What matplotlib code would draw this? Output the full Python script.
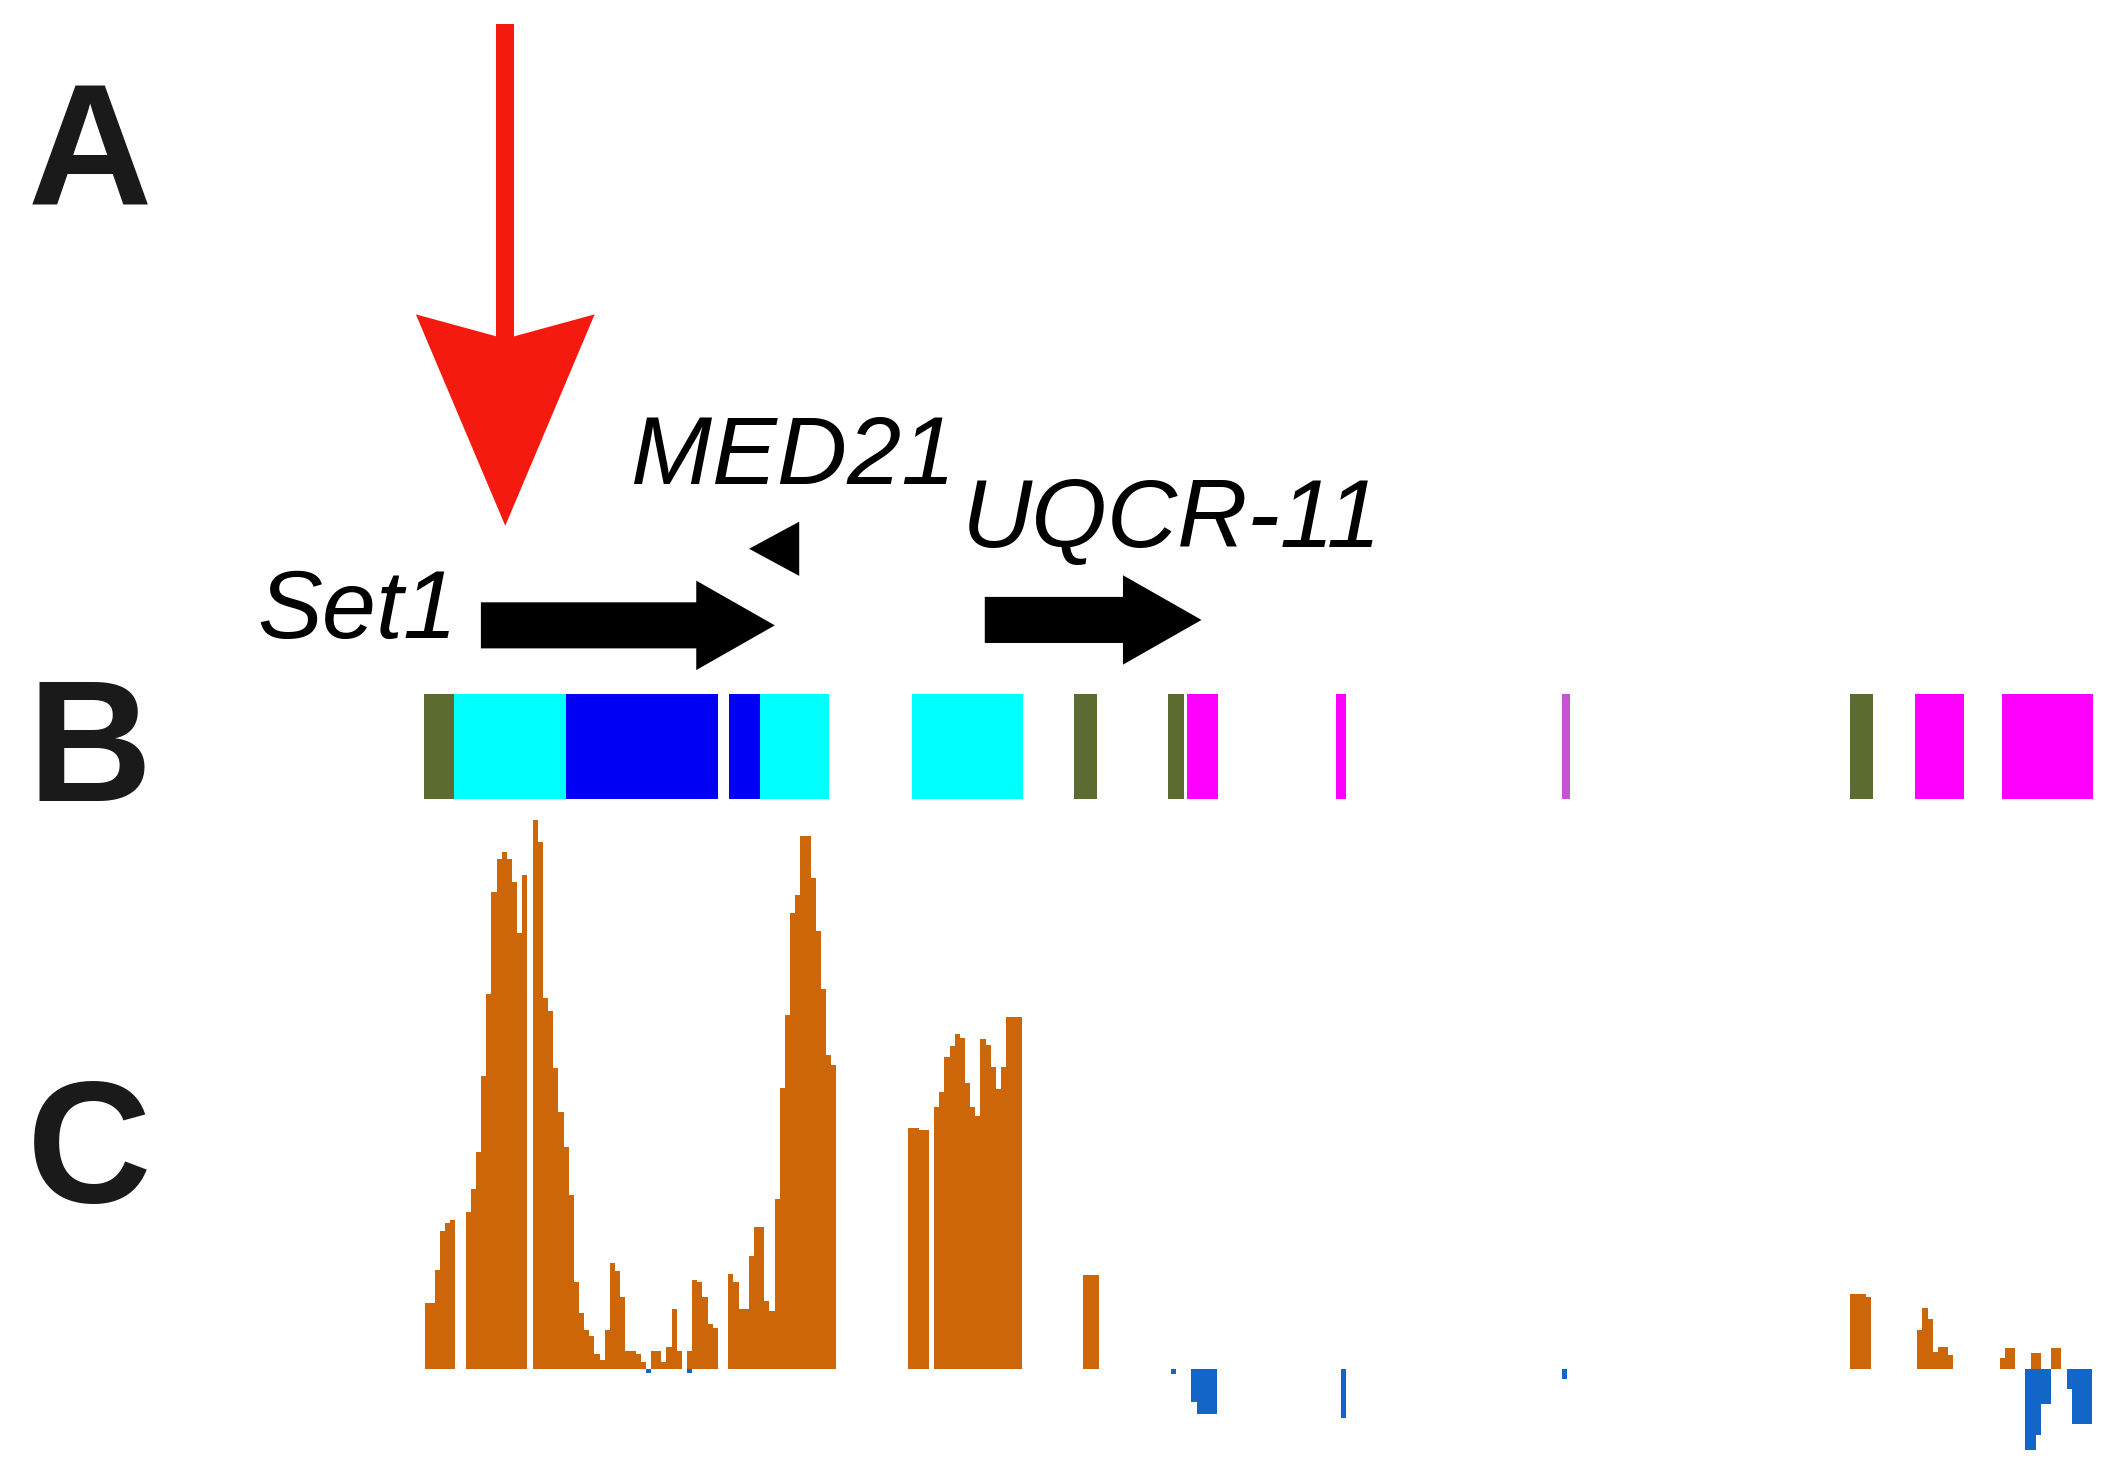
import numpy as np
import matplotlib
matplotlib.use("Agg")
import matplotlib.pyplot as plt
from matplotlib.patches import Polygon, FancyArrow
from matplotlib import font_manager

# layout units: genome position on x (same scale as the page), page rows on y
W, H = 1568, 1090

# --- Track B: chromatin state segments (start, end, colour) ---
state_start = [313, 335, 418, 538, 561, 673, 793, 862, 876, 986, 1153, 1366, 1414, 1478]
state_end = [335, 418, 530, 561, 612, 755, 810, 874, 899, 994, 1159, 1383, 1450, 1545]
state_color = ["#5c6b2f", "#00ffff", "#0000f5", "#0000f5", "#00ffff", "#00ffff",
               "#5c6b2f", "#5c6b2f", "#ff00ff", "#ff00ff", "#c455d0", "#5c6b2f",
               "#ff00ff", "#ff00ff"]

# --- Track C: binned signal, forward (orange) and reverse (blue) ---
bin_origin = 313.4
bin_width = 3.8
n_bins = 324

fwd_blocks = {
    0: [0.12, 0.12, 0.18, 0.25, 0.265, 0.27, 0, 0, 0.286, 0.328, 0.394, 0.533,
        0.682, 0.869, 0.928, 0.942, 0.928, 0.887, 0.793, 0.90, 0, 1.0, 0.96,
        0.675, 0.651, 0.547, 0.467, 0.404, 0.317, 0.158, 0.102, 0.071, 0.06,
        0.026, 0.015, 0.071, 0.192, 0.178, 0.13, 0.033, 0.033, 0.026, 0.012,
        0, 0.033, 0.033, 0.012, 0.04, 0.109, 0.033, 0, 0.033, 0.161, 0.158,
        0.13, 0.081, 0.074, 0, 0, 0.172, 0.158, 0.109, 0.109, 0.206, 0.258,
        0.258, 0.123, 0.106, 0.31, 0.512, 0.644, 0.831, 0.863, 0.97, 0.97,
        0.894, 0.797, 0.692, 0.571, 0.553],
    94: [0.439, 0.439, 0.435, 0.435, 0, 0.477, 0.505, 0.567, 0.588, 0.609,
         0.602, 0.52, 0.477, 0.46, 0.60, 0.59, 0.55, 0.51, 0.55, 0.64, 0.64, 0.64],
    128: [0.17, 0.17, 0.17],
    277: [0.136, 0.136, 0.136, 0.13],
    290: [0.07, 0.111, 0.09, 0.03, 0.04, 0.04, 0.025],
    306: [0.02, 0.037, 0.037],
    312: [0.028, 0.028],
    316: [0.037, 0.037],
}
rev_blocks = {
    43: [-0.008],
    51: [-0.008],
    145: [-0.009],
    149: [-0.06, -0.083, -0.083, -0.083, -0.083],
    178: [-0.09],
    221: [-0.018],
    311: [-0.148, -0.148, -0.12, -0.065, -0.065],
    319: [-0.037, -0.10, -0.10, -0.10, -0.10],
}

# --- Track A: gene models (name, start, end, strand, label x, label baseline) ---
gene_names = ["Set1", "MED21", "UQCR-11"]
gene_start = [355, 553, 727]
gene_end = [572, 590, 887]
gene_strand = [1, -1, 1]
gene_row = [461.5, 405, 457.5]
label_x = [190, 466, 710]
label_y = [471, 357, 404]

# highlighted site (red arrow)
site_pos = 373

fwd = np.zeros(n_bins)
rev = np.zeros(n_bins)
for s, vals in fwd_blocks.items():
    fwd[s:s + len(vals)] = vals
for s, vals in rev_blocks.items():
    rev[s:s + len(vals)] = vals
bin_x = bin_origin + bin_width * np.arange(n_bins)

installed = {f.name for f in font_manager.fontManager.ttflist}
narrow = "Liberation Sans Narrow" in installed
label_font = ["Liberation Sans Narrow", "Liberation Sans"] if narrow else ["Liberation Sans"]
label_size = 80 if narrow else 70

fig = plt.figure(figsize=(21.24, 14.77), dpi=100)
ax = fig.add_axes([0, 0, 1, 1])
ax.set_xlim(0, W)
ax.set_ylim(H, 0)
ax.axis("off")

# track B
for s, e, c in zip(state_start, state_end, state_color):
    ax.broken_barh([(s, e - s)], (512, 78), facecolors=c, linewidth=0)

# track C
axc = fig.add_axes([0, 5 / H, 1, 490 / H], sharex=ax)
axc.set_ylim(-0.185, 1.0247)
axc.patch.set_alpha(0)
axc.axis("off")
axc.bar(bin_x, fwd, width=bin_width, align="edge", color="#cc6608", linewidth=0)
axc.bar(bin_x, rev, width=bin_width, align="edge", color="#1266c8", linewidth=0)

# panel letters
for letter, y in zip(["A", "B", "C"], [151, 591, 887]):
    ax.text(66, y, letter, fontsize=124, fontweight="bold", family="Liberation Sans",
            ha="center", va="baseline", color="#1a1a1a")

# gene arrows and labels
for name, s, e, strand, row, lx, ly in zip(gene_names, gene_start, gene_end, gene_strand,
                                           gene_row, label_x, label_y):
    if name == "MED21":
        head = Polygon([(e, row - 20), (e, row + 20), (s, row)], closed=True,
                       facecolor="black", edgecolor="none")
        ax.add_patch(head)
    else:
        ax.add_patch(FancyArrow(s, row, e - s, 0, width=34, head_width=66,
                                head_length=58, length_includes_head=True,
                                facecolor="black", edgecolor="none"))
    ax.text(lx, ly, name, fontsize=label_size, style="italic", family=label_font,
            ha="left", va="baseline", color="black")

# red arrow marking the site
red = "#f41a10"
ax.plot([site_pos, site_pos], [18, 250], color=red, lw=13, solid_capstyle="butt")
ax.add_patch(Polygon([(site_pos - 66, 232), (site_pos, 250), (site_pos + 66, 232),
                      (site_pos, 388)], closed=True, facecolor=red, edgecolor="none"))

fig.savefig("out.png", dpi=100)
